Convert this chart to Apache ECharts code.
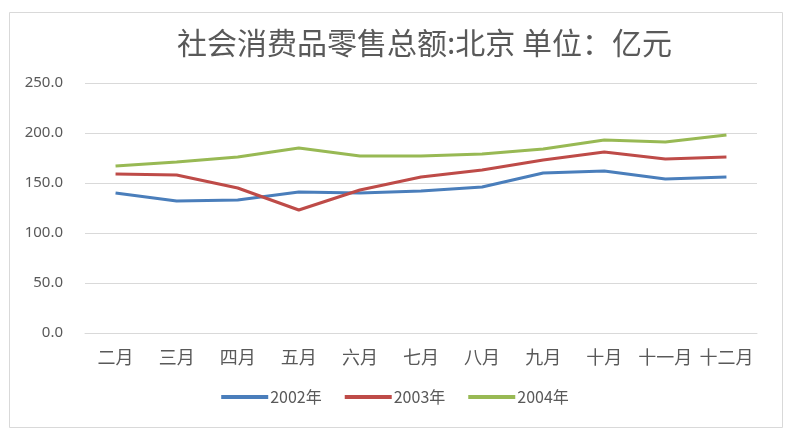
<!DOCTYPE html>
<html>
<head>
<meta charset="utf-8">
<script src="https://cdn.jsdelivr.net/npm/echarts@6/dist/echarts.min.js"></script>
<style>
html,body{margin:0;padding:0;background:#fff;}
#c{width:790px;height:431px;}
</style>
</head>
<body>
<div id="c"></div>
<script>
const categories = ['二月','三月','四月','五月','六月','七月','八月','九月','十月','十一月','十二月'];
const s2002 = [140, 132, 133, 141, 140, 142, 146, 160, 162, 154, 156];
const s2003 = [159, 158, 145, 123, 143, 156, 163, 173, 181, 174, 176];
const s2004 = [167, 171, 176, 185, 177, 177, 179, 184, 193, 191, 198];
const seriesNames = ['2002年','2003年','2004年'];
const colors = ['#4A7EBB','#BE4B48','#98B954'];
const titleText = '社会消费品零售总额:北京 单位：亿元';

const chart = echarts.init(document.getElementById('c'));
const mk = (name, data, color) => ({
  name, type: 'line', data, symbol: 'none', smooth: false,
  lineStyle: {color, width: 3.2}, itemStyle: {color}
});
chart.setOption({
  backgroundColor: '#fff',
  animation: false,
  graphic: [{
    type: 'rect', left: 7, top: 10,
    shape: {width: 773, height: 415},
    style: {fill: 'none', stroke: '#d9d9d9', lineWidth: 1}
  }],
  title: {
    text: titleText, left: 172, top: 23,
    textStyle: {fontFamily: 'Noto Sans CJK SC', fontSize: 30, fontWeight: 'normal', color: '#595959'}
  },
  grid: {left: 85, right: 33, top: 83, bottom: 98},
  legend: {
    bottom: 21, left: 'center', itemWidth: 47, itemHeight: 4, itemGap: 23,
    icon: 'rect',
    textStyle: {fontFamily: 'Noto Sans CJK SC', fontSize: 16, color: '#595959', padding: [0,0,0,-3]},
    data: seriesNames
  },
  xAxis: {
    type: 'category', data: categories, boundaryGap: true,
    axisLine: {lineStyle: {color: '#d9d9d9'}},
    axisTick: {show: false},
    axisLabel: {fontFamily: 'Noto Sans CJK SC', fontSize: 18, color: '#595959', margin: 15, interval: 0}
  },
  yAxis: {
    type: 'value', min: 0, max: 250, interval: 50,
    axisLine: {show: false}, axisTick: {show: false},
    splitLine: {lineStyle: {color: '#d9d9d9'}},
    axisLabel: {fontFamily: 'Noto Sans', fontSize: 15, color: '#595959', margin: 22,
      formatter: v => v.toFixed(1)}
  },
  series: [mk(seriesNames[0], s2002, colors[0]), mk(seriesNames[1], s2003, colors[1]), mk(seriesNames[2], s2004, colors[2])]
});
</script>
</body>
</html>
